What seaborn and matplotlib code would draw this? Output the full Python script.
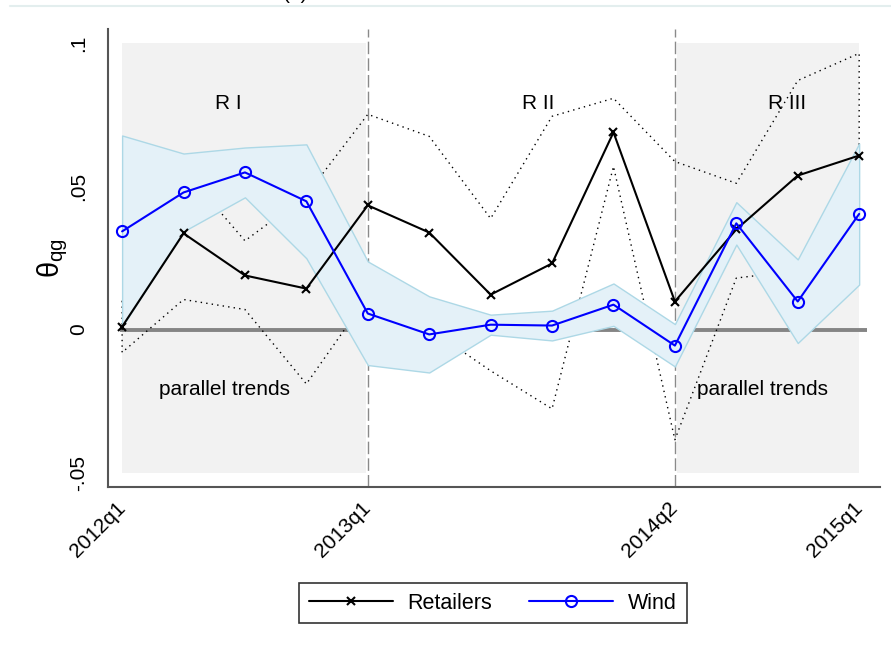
import numpy as np
import pandas as pd
import seaborn as sns
import matplotlib.pyplot as plt
from matplotlib.lines import Line2D

quarters = ["2012q1", "2012q2", "2012q3", "2012q4",
            "2013q1", "2013q2", "2013q3", "2013q4",
            "2014q1", "2014q2", "2014q3", "2014q4", "2015q1"]

retailers    = [0.001, 0.0336, 0.0189, 0.0143, 0.0434, 0.0339, 0.0122, 0.0231, 0.0689, 0.0098, 0.035, 0.0538, 0.0608]
retailers_lo = [-0.008, 0.0105, 0.007, -0.019, 0.0116, 0.0003, -0.0144, -0.0277, 0.057, -0.0385, 0.018, 0.0206, 0.025]
retailers_hi = [0.010, 0.056, 0.031, 0.047, 0.0752, 0.0675, 0.0388, 0.0745, 0.0808, 0.0587, 0.0511, 0.087, 0.0965]

wind    = [0.0343, 0.0479, 0.0549, 0.0448, 0.0056, -0.0017, 0.0017, 0.0014, 0.0087, -0.0056, 0.0371, 0.0098, 0.0404]
wind_lo = [0.001, 0.0343, 0.0462, 0.0249, -0.0124, -0.015, -0.0018, -0.0038, 0.0013, -0.0129, 0.0297, -0.0047, 0.0157]
wind_hi = [0.0678, 0.0615, 0.0636, 0.0647, 0.0238, 0.0116, 0.0052, 0.0066, 0.0161, 0.0019, 0.0445, 0.0245, 0.065]

tick_quarters = ["2012q1", "2013q1", "2014q2", "2015q1"]
y_ticks = [-0.05, 0, 0.05, 0.1]
y_tick_labels = ["-.05", "0", ".05", ".1"]
regions = [("2012q1", "2013q1"), ("2014q2", "2015q1")]
breaks = ["2013q1", "2014q2"]

sns.set_style("white")
plt.rcParams["font.family"] = ["Liberation Sans", "DejaVu Sans"]
plt.rcParams["mathtext.fontset"] = "custom"
plt.rcParams["mathtext.rm"] = "Liberation Sans"
plt.rcParams["mathtext.it"] = "Liberation Sans"
for k in ["text.color", "axes.labelcolor", "xtick.labelcolor", "ytick.labelcolor"]:
    plt.rcParams[k] = "black"

df = pd.DataFrame({"t": np.arange(len(quarters)),
                   "Retailers": retailers, "Wind": wind})
pos = {q: i for i, q in enumerate(quarters)}

fig = plt.figure(figsize=(8.91, 6.52), dpi=100)
ax = fig.add_axes([0.1212, 0.2531, 0.8665, 0.7024])

# shaded parallel-trend regions
for a, b in regions:
    x0, x1 = pos[a], pos[b]
    x0 = x0 + 0.03 if x0 > 0 else x0
    x1 = x1 - 0.03 if x1 < len(quarters) - 1 else x1
    ax.fill_between([x0, x1], -0.05, 0.1, color="#f2f2f2", lw=0, zorder=1)

ax.hlines(0, -0.03, 12.12, color="#858585", lw=2.8, zorder=2)

for q in breaks:
    ax.axvline(pos[q], color="#8a8a8a", lw=1, dashes=(9, 3), zorder=2)

# retailers CI outline (dotted)
ax.fill_between(df["t"], retailers_lo, retailers_hi, facecolor="none",
                edgecolor="black", lw=1, linestyle=(0, (1, 3)), zorder=2.5)

# wind CI band
ax.fill_between(df["t"], wind_lo, wind_hi, facecolor="#e4f1f8",
                edgecolor="#add8e6", lw=1, zorder=3)

sns.lineplot(data=df, x="t", y="Retailers", ax=ax, color="black", lw=1.5,
             marker="x", markersize=6, markeredgecolor="black", mew=1.5,
             label="Retailers", zorder=5)
sns.lineplot(data=df, x="t", y="Wind", ax=ax, color="blue", lw=1.5,
             marker="o", markersize=8, markerfacecolor="none",
             markeredgecolor="blue", mew=1.5, label="Wind", zorder=6)

ax.text(1.73, 0.079, "R I", fontsize=15, ha="center", va="center")
ax.text(6.77, 0.079, "R II", fontsize=15, ha="center", va="center")
ax.text(10.83, 0.079, "R III", fontsize=15, ha="center", va="center")
ax.text(1.67, -0.021, "parallel trends", fontsize=15, ha="center", va="center")
ax.text(10.43, -0.021, "parallel trends", fontsize=15, ha="center", va="center")

ax.set_xlim(-0.23, 12.34)
ax.set_ylim(-0.055, 0.105)
ax.set_xticks([pos[q] for q in tick_quarters])
ax.set_xticklabels(tick_quarters, rotation=45, ha="right", va="center",
                   rotation_mode="anchor", fontsize=15)
ax.set_yticks(y_ticks)
ax.set_yticklabels(y_tick_labels, rotation=90, va="center", fontsize=15)
ax.tick_params(axis="both", direction="out", length=9, width=1.3, color="#555555",
               pad=5)
ax.tick_params(axis="x", length=8, pad=5)
ax.set_xlabel("")
ax.set_ylabel(r"$\theta_{qg}$", fontsize=21, labelpad=0)

for s in ["top", "right"]:
    ax.spines[s].set_visible(False)
for s in ["left", "bottom"]:
    ax.spines[s].set_color("#555555")
    ax.spines[s].set_linewidth(1.5)

handles, labels = ax.get_legend_handles_labels()
ax.get_legend().remove()
leg = fig.legend(handles, labels, loc="center", bbox_to_anchor=(0.553, 0.075),
                 ncol=2, frameon=True, fancybox=False, edgecolor="black",
                 fontsize=15.5, handlelength=3.9, columnspacing=1.7,
                 borderpad=0.45, handletextpad=0.7, borderaxespad=0)
leg.get_frame().set_linewidth(1.2)

# faint rule and clipped panel title at top
fig.add_artist(Line2D([0.011, 1.0], [1 - 6 / 652, 1 - 6 / 652], color="#e3eeee", lw=1.5))
fig.text(0.332, 1.002, "(a)", fontsize=15, ha="center", va="baseline")

fig.savefig("out.png", dpi=100)
